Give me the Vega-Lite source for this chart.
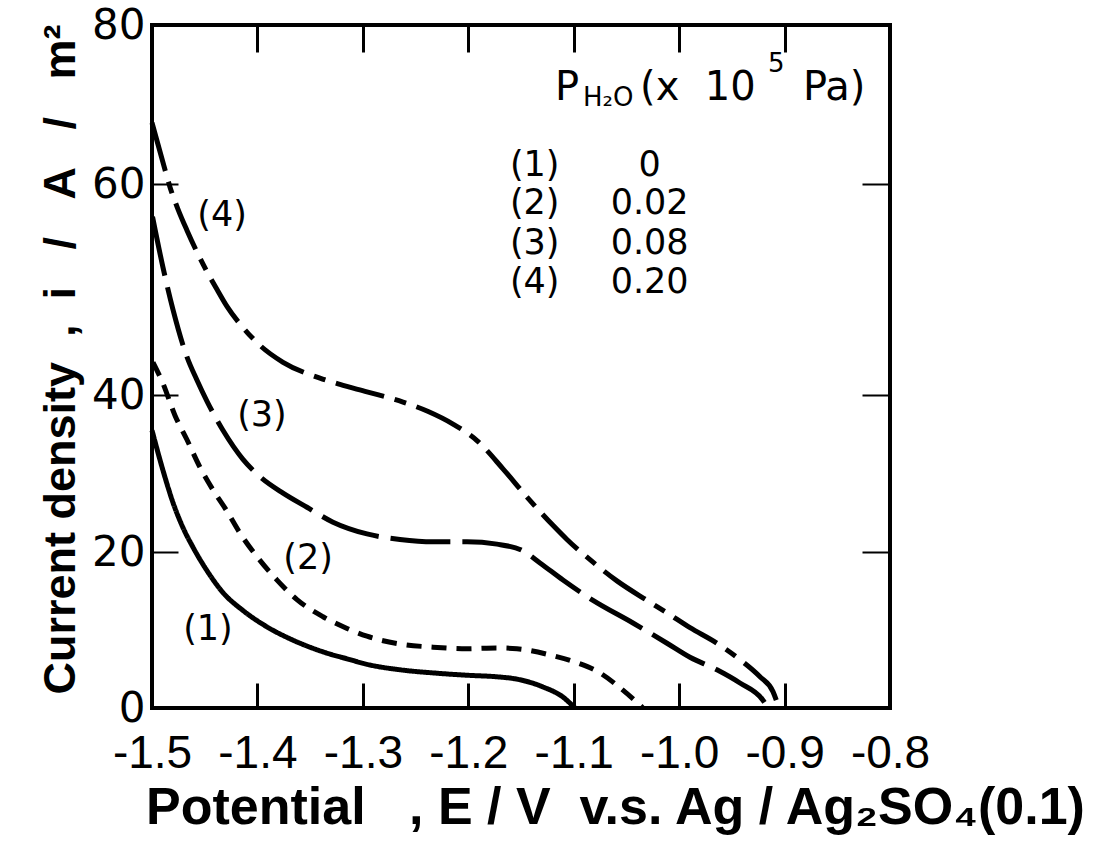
{
  "$schema": "https://vega.github.io/schema/vega-lite/v6.json",
  "width": 738,
  "height": 683,
  "autosize": "none",
  "padding": {"left": 152, "top": 25, "right": 209, "bottom": 133},
  "background": "white",
  "config": {
    "view": {"stroke": "black", "strokeWidth": 4},
    "axis": {"domain": false, "grid": false, "tickColor": "black", "labelColor": "black", "titleColor": "black"}
  },
  "datasets": {
    "curves": [
      {"s": "1", "E": -1.5, "i": 35.5},
      {"s": "1", "E": -1.4896, "i": 30.4},
      {"s": "1", "E": -1.4801, "i": 26.3},
      {"s": "1", "E": -1.4706, "i": 23.1},
      {"s": "1", "E": -1.4611, "i": 20.6},
      {"s": "1", "E": -1.4478, "i": 17.6},
      {"s": "1", "E": -1.4327, "i": 14.8},
      {"s": "1", "E": -1.4137, "i": 12.5},
      {"s": "1", "E": -1.3909, "i": 10.4},
      {"s": "1", "E": -1.3663, "i": 8.7},
      {"s": "1", "E": -1.3378, "i": 7.2},
      {"s": "1", "E": -1.3122, "i": 6.2},
      {"s": "1", "E": -1.2961, "i": 5.6},
      {"s": "1", "E": -1.2648, "i": 4.9},
      {"s": "1", "E": -1.2335, "i": 4.5},
      {"s": "1", "E": -1.2012, "i": 4.2},
      {"s": "1", "E": -1.1728, "i": 4.0},
      {"s": "1", "E": -1.1538, "i": 3.7},
      {"s": "1", "E": -1.1291, "i": 2.7},
      {"s": "1", "E": -1.1102, "i": 1.4},
      {"s": "1", "E": -1.0988, "i": 0},
      {"s": "2", "E": -1.4991, "i": 43.1},
      {"s": "2", "E": -1.4896, "i": 41.1},
      {"s": "2", "E": -1.4782, "i": 37.4},
      {"s": "2", "E": -1.4668, "i": 34.3},
      {"s": "2", "E": -1.4545, "i": 30.8},
      {"s": "2", "E": -1.4421, "i": 27.9},
      {"s": "2", "E": -1.4289, "i": 25.2},
      {"s": "2", "E": -1.4165, "i": 22.4},
      {"s": "2", "E": -1.4004, "i": 19.4},
      {"s": "2", "E": -1.3814, "i": 16.4},
      {"s": "2", "E": -1.3625, "i": 13.9},
      {"s": "2", "E": -1.3378, "i": 11.7},
      {"s": "2", "E": -1.3150, "i": 10.2},
      {"s": "2", "E": -1.2961, "i": 9.2},
      {"s": "2", "E": -1.2648, "i": 8.2},
      {"s": "2", "E": -1.2335, "i": 7.8},
      {"s": "2", "E": -1.2012, "i": 7.6},
      {"s": "2", "E": -1.1728, "i": 7.7},
      {"s": "2", "E": -1.1538, "i": 7.6},
      {"s": "2", "E": -1.1224, "i": 6.8},
      {"s": "2", "E": -1.0969, "i": 5.8},
      {"s": "2", "E": -1.0751, "i": 4.5},
      {"s": "2", "E": -1.0561, "i": 2.6},
      {"s": "2", "E": -1.0390, "i": 0.6},
      {"s": "2", "E": -1.0343, "i": 0},
      {"s": "3", "E": -1.4995, "i": 56.9},
      {"s": "3", "E": -1.4896, "i": 52.1},
      {"s": "3", "E": -1.4801, "i": 48.1},
      {"s": "3", "E": -1.4668, "i": 43.6},
      {"s": "3", "E": -1.4573, "i": 41.4},
      {"s": "3", "E": -1.4478, "i": 39.2},
      {"s": "3", "E": -1.4327, "i": 35.5},
      {"s": "3", "E": -1.4137, "i": 31.8},
      {"s": "3", "E": -1.3976, "i": 29.6},
      {"s": "3", "E": -1.3757, "i": 27.5},
      {"s": "3", "E": -1.3530, "i": 25.7},
      {"s": "3", "E": -1.3283, "i": 23.8},
      {"s": "3", "E": -1.2961, "i": 22.3},
      {"s": "3", "E": -1.2648, "i": 21.6},
      {"s": "3", "E": -1.2335, "i": 21.3},
      {"s": "3", "E": -1.2012, "i": 21.3},
      {"s": "3", "E": -1.1728, "i": 21.0},
      {"s": "3", "E": -1.1490, "i": 20.2},
      {"s": "3", "E": -1.1320, "i": 18.6},
      {"s": "3", "E": -1.1102, "i": 16.4},
      {"s": "3", "E": -1.0817, "i": 13.8},
      {"s": "3", "E": -1.0438, "i": 10.9},
      {"s": "3", "E": -1.0115, "i": 8.3},
      {"s": "3", "E": -0.9897, "i": 6.5},
      {"s": "3", "E": -0.9641, "i": 4.9},
      {"s": "3", "E": -0.9423, "i": 3.2},
      {"s": "3", "E": -0.9205, "i": 1.0},
      {"s": "3", "E": -0.9157, "i": 0},
      {"s": "4", "E": -1.5, "i": 67.7},
      {"s": "4", "E": -1.4877, "i": 61.8},
      {"s": "4", "E": -1.4829, "i": 59.7},
      {"s": "4", "E": -1.4753, "i": 57.6},
      {"s": "4", "E": -1.4668, "i": 55.6},
      {"s": "4", "E": -1.4516, "i": 52.4},
      {"s": "4", "E": -1.4383, "i": 50.0},
      {"s": "4", "E": -1.4289, "i": 48.4},
      {"s": "4", "E": -1.4137, "i": 46.4},
      {"s": "4", "E": -1.3976, "i": 44.7},
      {"s": "4", "E": -1.3757, "i": 43.1},
      {"s": "4", "E": -1.3407, "i": 41.6},
      {"s": "4", "E": -1.3217, "i": 41.0},
      {"s": "4", "E": -1.2961, "i": 40.3},
      {"s": "4", "E": -1.2619, "i": 39.1},
      {"s": "4", "E": -1.2380, "i": 37.9},
      {"s": "4", "E": -1.2145, "i": 36.3},
      {"s": "4", "E": -1.1918, "i": 34.2},
      {"s": "4", "E": -1.1671, "i": 30.6},
      {"s": "4", "E": -1.1443, "i": 27.0},
      {"s": "4", "E": -1.1197, "i": 23.4},
      {"s": "4", "E": -1.1064, "i": 21.6},
      {"s": "4", "E": -1.0817, "i": 18.7},
      {"s": "4", "E": -1.0590, "i": 16.3},
      {"s": "4", "E": -1.0305, "i": 13.8},
      {"s": "4", "E": -1.0115, "i": 12.2},
      {"s": "4", "E": -0.9897, "i": 10.3},
      {"s": "4", "E": -0.9641, "i": 8.3},
      {"s": "4", "E": -0.9423, "i": 6.2},
      {"s": "4", "E": -0.9233, "i": 4.0},
      {"s": "4", "E": -0.9110, "i": 2.1},
      {"s": "4", "E": -0.9053, "i": 0}
    ],
    "labels": [
      {"t": "(4)", "E": -1.4336, "i": 57.1},
      {"t": "(3)", "E": -1.3957, "i": 37.4},
      {"t": "(2)", "E": -1.3520, "i": 19.2},
      {"t": "(1)", "E": -1.4469, "i": 10.1},
      {"t": "(1)", "E": -1.137, "i": 62.4},
      {"t": "0", "E": -1.028, "i": 62.4},
      {"t": "(2)", "E": -1.137, "i": 58.2},
      {"t": "0.02", "E": -1.028, "i": 58.2},
      {"t": "(3)", "E": -1.137, "i": 54.4},
      {"t": "0.08", "E": -1.028, "i": 54.4},
      {"t": "(4)", "E": -1.137, "i": 50.7},
      {"t": "0.20", "E": -1.028, "i": 50.7}
    ],
    "head": [
      {"t": "P", "E": -1.1178, "i": 70.6},
      {"t": "(x\u00a0\u00a010", "E": -1.0371, "i": 70.6},
      {"t": "Pa)", "E": -0.8825, "i": 70.6}
    ],
    "small": [
      {"t": "H₂O", "E": -1.0912, "i": 69.8},
      {"t": "5", "E": -0.9157, "i": 74.1}
    ]
  },
  "layer": [
    {
      "data": {"name": "curves"},
      "mark": {"type": "line", "color": "black", "strokeWidth": 5, "interpolate": "monotone"},
      "encoding": {
        "x": {
          "field": "E", "type": "quantitative",
          "scale": {"domain": [-1.5, -0.8], "nice": false, "zero": false},
          "axis": {
            "orient": "bottom",
            "values": [-1.5, -1.4, -1.3, -1.2, -1.1, -1.0, -0.9, -0.8],
            "tickSize": -25, "tickWidth": 3,
            "labelExpr": "datum.value < 0 ? '-' + format(-datum.value, '.1f') : format(datum.value, '.1f')",
            "labelFont": "Liberation Sans", "labelFontSize": 46, "labelPadding": 48,
            "labelFlush": false,
            "title": "Potential\u00a0\u00a0\u00a0, E / V\u00a0\u00a0v.s. Ag / Ag₂SO₄(0.1)",
            "titleFont": "Liberation Sans", "titleFontSize": 52, "titleFontWeight": "bold",
            "titleAnchor": "start", "titleAlign": "center", "titleX": 463, "titleY": 115, "titleBaseline": "alphabetic"
          }
        },
        "y": {
          "field": "i", "type": "quantitative",
          "scale": {"domain": [0, 20, 40, 60, 80], "range": [683, 527, 370, 159, 0], "nice": false, "zero": false},
          "axis": {
            "orient": "left",
            "values": [0, 20, 40, 60, 80],
            "tickSize": -26, "tickWidth": 2,
            "labelFont": "DejaVu Sans", "labelFontSize": 42, "labelPadding": 33,
            "title": "Current density\u00a0\u00a0,\u00a0\u00a0i\u00a0\u00a0\u00a0/\u00a0\u00a0\u00a0A\u00a0\u00a0\u00a0/\u00a0\u00a0\u00a0m²",
            "titleFont": "Liberation Sans", "titleFontSize": 45, "titleFontWeight": "bold",
            "titleAngle": 270, "titleAlign": "center", "titleBaseline": "alphabetic",
            "titleX": -78, "titleY": 334, "titleAnchor": "start"
          }
        },
        "strokeDash": {
          "field": "s", "type": "nominal",
          "scale": {"domain": ["1", "2", "3", "4"], "range": [[1, 0], [15, 10], [60, 12], [50, 11, 12, 11]]},
          "legend": null
        }
      }
    },
    {
      "data": {"name": "labels"},
      "mark": {"type": "text", "font": "DejaVu Sans", "fontSize": 35, "align": "center", "baseline": "middle", "color": "black"},
      "encoding": {
        "x": {"field": "E", "type": "quantitative", "scale": {"domain": [-1.5, -0.8], "nice": false, "zero": false},
          "axis": {"orient": "top", "values": [-1.4, -1.3, -1.2, -1.1, -1.0, -0.9], "tickSize": -27, "tickWidth": 3, "labels": false, "title": null}},
        "y": {"field": "i", "type": "quantitative", "scale": {"domain": [0, 20, 40, 60, 80], "range": [683, 527, 370, 159, 0], "nice": false, "zero": false},
          "axis": {"orient": "right", "values": [20, 40, 60], "tickSize": -28, "tickWidth": 2, "labels": false, "title": null}},
        "text": {"field": "t", "type": "nominal"}
      }
    },
    {
      "data": {"name": "head"},
      "mark": {"type": "text", "font": "DejaVu Sans", "fontSize": 40, "align": "left", "baseline": "alphabetic", "color": "black"},
      "encoding": {
        "x": {"field": "E", "type": "quantitative", "axis": null},
        "y": {"field": "i", "type": "quantitative", "axis": null},
        "text": {"field": "t", "type": "nominal"}
      }
    },
    {
      "data": {"name": "small"},
      "mark": {"type": "text", "font": "DejaVu Sans", "fontSize": 26, "align": "left", "baseline": "alphabetic", "color": "black"},
      "encoding": {
        "x": {"field": "E", "type": "quantitative", "axis": null},
        "y": {"field": "i", "type": "quantitative", "axis": null},
        "text": {"field": "t", "type": "nominal"}
      }
    }
  ],
  "resolve": {"axis": {"x": "independent", "y": "independent"}}
}
